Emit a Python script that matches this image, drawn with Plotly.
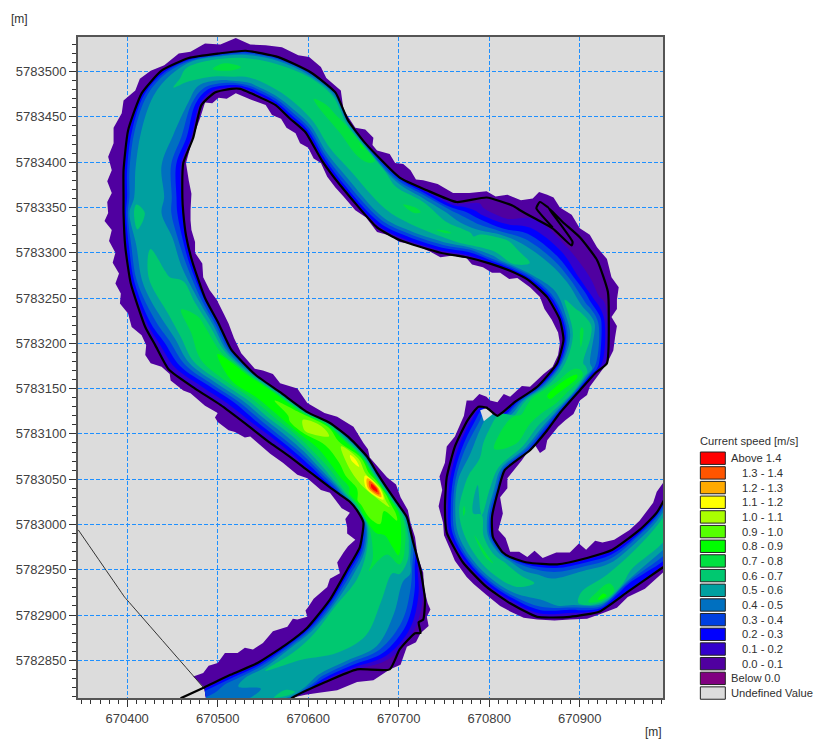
import plotly.graph_objects as go

# Eastings / northings are stored relative to these bases (metres)
E0 = 670000
N0 = 5783000

# Channel cross-sections: first bank and second bank
SEC_A_E = [485,514,544,575,599,624,643,657,661,655,646,635,624,611,599,578,558,531,503,475,446,431,420,404,398,396,396,396,401,416,438,468,501,531,567,603,630,644,663,701,731,764,797,826,859,900,919,931,932,930,917,900,878,864,845,817,810,803,804,815,823,842,875,908,936,966,985,999]
SEC_A_N = [-180,-166,-153,-133,-114,-83,-50,-25,2,14,25,33,41,51,60,76,90,111,132,150,171,198,218,266,306,344,361,391,435,476,501,515,520,523,516,499,477,446,421,383,369,356,361,352,356,317,292,257,229,178,167,148,123,104,82,60,38,8,-14,-31,-36,-42,-44,-37,-28,-6,13,38]
SEC_B_E = [488,536,583,619,654,690,718,729,724,716,709,698,687,676,665,646,624,599,569,542,515,501,486,472,465,462,461,462,473,482,497,515,525,537,564,580,597,615,635,676,701,746,775,801,823,843,864,878,882,875,853,828,809,788,776,762,753,751,753,771,797,823,853,889,922,952,988,1010]
SEC_B_N = [-198,-198,-191,-174,-160,-149,-120,-83,-50,-20,8,24,40,57,75,95,112,124,146,165,193,222,250,290,319,344,361,399,427,463,477,481,481,476,463,448,433,402,375,328,314,300,295,288,280,270,251,226,204,178,152,135,120,130,115,86,52,19,-9,-42,-69,-87,-102,-102,-96,-75,-50,-35]

# Position across the channel (0 = first bank, 1 = second bank)
ACROSS = [0, .1, .22, .4, .6, .78, .9, 1]

# Current speed [m/s] at each cross-section
SPEED = [
 [.10,.20,.30,.35,.40,.42,.42,.42],
 [.15,.30,.45,.50,.45,.48,.52,.55],
 [.15,.40,.60,.55,.55,.60,.65,.40],
 [.20,.50,.62,.60,.60,.55,.35,.12],
 [.20,.55,.70,.68,.60,.52,.30,.10],
 [.20,.60,.68,.65,.60,.50,.28,.08],
 [.20,.55,.68,.65,.55,.45,.25,.05],
 [.20,.60,.72,.65,.55,.40,.20,.05],
 [.30,.70,.80,.75,.85,.60,.30,.10],
 [.40,.80,.90,.90,.82,.80,.65,.40],
 [.35,.70,.95,.95,.90,.95,.75,.40],
 [.30,.55,.85,.95,.95,1.05,.85,.40],
 [.20,.40,.70,.85,1.0,1.55,.95,.35],
 [.18,.35,.60,.85,1.0,1.05,.85,.35],
 [.15,.30,.55,.80,.95,1.15,.90,.35],
 [.10,.25,.45,.75,.90,.95,.80,.35],
 [.10,.20,.40,.65,1.02,1.08,.95,.50],
 [.10,.20,.35,.60,.85,.95,.90,.45],
 [.10,.18,.30,.55,.80,.88,.85,.40],
 [.08,.18,.30,.55,.80,.88,.80,.40],
 [.08,.20,.35,.60,.78,.80,.60,.30],
 [.10,.25,.40,.60,.72,.72,.55,.25],
 [.10,.30,.45,.60,.70,.68,.50,.25],
 [.15,.40,.55,.68,.58,.55,.40,.20],
 [.15,.40,.55,.58,.55,.50,.35,.20],
 [.15,.50,.66,.58,.52,.42,.30,.18],
 [.15,.40,.55,.58,.55,.45,.30,.18],
 [.15,.40,.52,.55,.52,.42,.28,.15],
 [.15,.40,.52,.56,.55,.45,.30,.15],
 [.20,.40,.52,.58,.58,.50,.30,.15],
 [.15,.40,.55,.62,.58,.42,.25,.12],
 [.15,.50,.65,.68,.60,.45,.28,.12],
 [.20,.55,.68,.74,.65,.50,.30,.12],
 [.20,.50,.66,.68,.62,.48,.28,.12],
 [.25,.55,.66,.68,.64,.55,.35,.15],
 [.30,.60,.66,.68,.65,.55,.35,.15],
 [.35,.62,.68,.72,.66,.58,.38,.15],
 [.40,.70,.72,.68,.65,.55,.35,.12],
 [.30,.82,.72,.68,.62,.50,.35,.15],
 [.25,.50,.65,.68,.62,.50,.30,.12],
 [.12,.40,.62,.72,.65,.50,.28,.12],
 [.05,.25,.45,.58,.72,.52,.30,.12],
 [.05,.07,.12,.35,.58,.65,.32,.12],
 [.05,.06,.09,.30,.68,.62,.45,.15],
 [.05,.05,.08,.22,.48,.66,.60,.15],
 [.05,.05,.08,.25,.50,.55,.50,.20],
 [.05,.05,.08,.20,.50,.55,.45,.15],
 [.05,.06,.12,.35,.58,.66,.45,.15],
 [.05,.20,.38,.62,.72,.62,.42,.15],
 [.05,.20,.40,.55,.68,.70,.50,.15],
 [.10,.40,.70,.90,.75,.62,.45,.15],
 [.15,.60,.72,.82,.78,.68,.45,.15],
 [.20,.55,.68,.72,.72,.55,.35,.12],
 [.20,.55,.68,.78,.65,.55,.35,.10],
 [.25,.58,.70,.75,.65,.50,.30,.10],
 [.30,.58,.70,.65,.55,.45,.25,.10],
 [.30,.55,.65,.60,.62,.50,.25,.10],
 [.25,.50,.60,.60,.72,.50,.25,.10],
 [.25,.50,.62,.70,.62,.48,.25,.10],
 [.30,.52,.60,.72,.62,.48,.25,.10],
 [.25,.52,.62,.68,.62,.48,.25,.10],
 [.20,.40,.52,.65,.60,.48,.25,.10],
 [.18,.35,.48,.55,.55,.45,.25,.10],
 [.15,.35,.50,.60,.58,.55,.25,.10],
 [.15,.35,.50,.60,.72,.85,.45,.15],
 [.15,.40,.55,.65,.62,.50,.20,.30],
 [.20,.45,.60,.65,.60,.45,.30,.15],
 [.20,.45,.60,.65,.60,.45,.30,.15],
]

# Outer edge of the wetted fringe, outside each bank
FRINGE_A_E = [473,484,490,500,508,522,530,539,550,561,577,583,588,599,597,600,606,621,624,635,632,639,644,652,643,643,641,646,637,624,614,599,588,572,558,536,530,519,512,500,497,500,486,470,462,448,447,438,426,420,421,416,405,401,392,393,387,391,384,387,380,383,375,379,378,383,378,383,379,385,385,394,396,409,414,426,441,457,470,486,503,520,536,553,571,589,601,614,620,636,639,652,663,672,671,676,690,696,705,713,719,727,743,760,778,797,807,820,835,848,855,864,871,878,891,900,911,919,930,935,943,941,941,935,941,939,937,930,922,911,908,900,893,884,876,864,862,856,851,845,836,820,820,812,815,810,818,823,833,842,850,859,874,889,899,907,917,925,938,955,966,981,985,992,1002]
FRINGE_A_N = [-168,-164,-156,-153,-142,-142,-136,-138,-131,-118,-113,-104,-105,-102,-95,-91,-82,-69,-60,-54,-42,-31,-24,-17,-10,-3,6,13,18,35,38,51,55,68,78,97,96,102,104,113,118,123,131,145,148,159,166,174,178,187,198,209,218,233,244,255,266,277,289,300,313,325,335,344,356,366,379,391,406,421,438,454,468,479,492,501,507,520,522,531,530,537,530,529,527,518,516,505,493,479,458,438,436,427,419,413,409,399,398,391,381,380,376,366,366,368,362,364,358,360,367,364,361,350,342,327,320,306,293,273,262,248,238,229,219,207,192,178,167,152,143,137,122,115,108,93,83,79,87,84,71,51,40,30,12,-6,-15,-30,-30,-36,-29,-37,-31,-31,-21,-28,-18,-20,-17,-6,4,24,36,46,60]
FRINGE_B_E = [575,583,597,610,632,654,672,690,702,709,719,724,733,731,735,732,728,727,721,718,713,710,702,697,687,680,668,666,661,650,632,618,599,588,569,561,550,541,526,518,512,507,499,491,484,483,475,475,471,470,470,471,468,465,472,481,486,494,501,510,520,537,553,560,570,576,586,591,600,606,614,621,630,639,652,664,676,690,701,717,735,746,760,775,781,793,803,812,822,831,845,856,861,869,876,878,876,870,860,845,836,823,816,809,801,797,789,782,775,772,762,753,751,745,748,744,749,750,757,762,775,783,797,812,823,838,853,872,889,908,925,941,953,972,992,1005]
FRINGE_B_N = [-198,-191,-188,-186,-183,-174,-172,-160,-155,-135,-130,-120,-112,-102,-94,-87,-71,-53,-36,-14,2,16,30,44,52,60,74,83,90,108,119,123,134,150,156,166,170,172,189,206,222,232,248,259,273,288,300,312,325,336,347,365,380,399,425,450,466,465,471,470,476,469,463,452,448,438,432,421,416,404,399,384,372,362,347,339,323,319,312,309,301,295,297,294,287,284,278,278,271,272,262,251,238,226,212,200,187,174,166,152,153,141,144,135,137,141,144,137,137,120,97,86,68,53,38,20,2,-12,-28,-40,-58,-66,-78,-90,-96,-103,-105,-106,-105,-104,-98,-92,-80,-71,-53,-45]

# Black bank lines
BANK_A_E = [459] + SEC_A_E[:44] + [834,850,870,891,892,865,881] + SEC_A_E[45:]
BANK_A_N = [-192] + SEC_A_N[:44] + [347,338,327,308,312,350,334] + SEC_A_N[45:]
SLOT_E = [865,856,853,852,870]
SLOT_N = [350,356,352,349,328]
BANK_B_E = [575] + SEC_B_E[2:5] + [690,701,718,724,722,727] + SEC_B_E[7:53] + [797] + SEC_B_E[53:]
BANK_B_N = [-198] + SEC_B_N[2:5] + [-160,-138,-120,-120,-108,-105] + SEC_B_N[7:53] + [129] + SEC_B_N[53:]
MESH_E = [346,397,486]
MESH_N = [-6,-80,-182]
HOLE_E = [790,799,804,794]
HOLE_N = [126,129,122,114]

LEGEND_TITLE = "Current speed [m/s]"
LEGEND_LABELS = ["Above 1.4","1.3 - 1.4","1.2 - 1.3","1.1 - 1.2","1.0 - 1.1","0.9 - 1.0","0.8 - 0.9","0.7 - 0.8","0.6 - 0.7","0.5 - 0.6","0.4 - 0.5","0.3 - 0.4","0.2 - 0.3","0.1 - 0.2","0.0 - 0.1","Below 0.0","Undefined Value"]
LEGEND_COLORS = ["#FF0000","#FF5500","#FFAA00","#FFFF00","#AAFF00","#55FF00","#00FF00","#00E040","#00C870","#00A0A0","#0070C0","#0040E0","#0000FF","#3300CC","#5000A0","#800080","#DCDCDC"]

BG = "#DCDCDC"
W, H = 816, 740
L, T, R, B = 77.5, 36.7, 663.3, 698.3
XR = [670345.7, 670991.9]
YR = [5782808.4, 5783538.2]

e = lambda v: [E0 + i for i in v]
n = lambda v: [N0 + i for i in v]

grid_x = [[E0 + a + f*(b-a) for f in ACROSS] for a, b in zip(SEC_A_E, SEC_B_E)]
grid_y = [[N0 + a + f*(b-a) for f in ACROSS] for a, b in zip(SEC_A_N, SEC_B_N)]
stations = list(range(len(SPEED)))

band_colors = LEGEND_COLORS[:15][::-1]
colorscale = [[k/14, c] for k, c in enumerate(band_colors)]

hidden = dict(showgrid=False, showline=False, startline=False, endline=False,
              showticklabels="none", minorgridcount=0, smoothing=0, title=dict(text=""))

fig = go.Figure()
fig.add_trace(go.Carpet(a=ACROSS, b=stations, x=grid_x, y=grid_y, carpet="river",
                        aaxis=hidden, baxis=dict(hidden, smoothing=1)))
fig.add_trace(go.Contourcarpet(a=ACROSS, b=stations, z=SPEED, carpet="river",
                               autocontour=False,
                               contours=dict(start=.1, end=1.4, size=.1, coloring="fill", showlines=False),
                               line=dict(width=0, smoothing=1), colorscale=colorscale, showscale=False))
line = lambda xs, ys, w, c="#000000", s=.5: go.Scatter(x=e(xs), y=n(ys), mode="lines",
            line=dict(color=c, width=w, shape="spline", smoothing=s), showlegend=False, hoverinfo="skip")
fig.add_trace(go.Scatter(x=e(HOLE_E), y=n(HOLE_N), mode="lines", fill="toself", fillcolor=BG,
                         line=dict(width=0), showlegend=False, hoverinfo="skip"))
fig.add_trace(line(MESH_E, MESH_N, 1, "#333333", 0))
fig.add_trace(line(BANK_A_E, BANK_A_N, 2.2))
fig.add_trace(line(SLOT_E, SLOT_N, 2.2))
fig.add_trace(line(BANK_B_E, BANK_B_N, 2.2))

fringe_x = e(FRINGE_A_E) + e(FRINGE_B_E[::-1]) + e([488, 485])
fringe_y = n(FRINGE_A_N) + n(FRINGE_B_N[::-1]) + n([-198, -180])
path = "M " + " L ".join(f"{x} {y}" for x, y in zip(fringe_x, fringe_y)) + " Z"
shapes = [dict(type="path", path=path, xref="x", yref="y", layer="between",
               fillcolor=LEGEND_COLORS[14], line=dict(width=0))]

px = lambda v: (v - L) / (R - L)
py = lambda v: (B - v) / (B - T)
annotations = []
def text(s, x, y, size=11.2, anchor="left"):
    annotations.append(dict(text=s, x=px(x), y=py(y), xref="paper", yref="paper", showarrow=False,
                            xanchor=anchor, yanchor="middle", align="left",
                            font=dict(size=size, color="#303030"), borderpad=0))
text(LEGEND_TITLE, 699.5, 441)
for i, (lab, col) in enumerate(zip(LEGEND_LABELS, LEGEND_COLORS)):
    yc = 458.3 + i*14.69
    shapes.append(dict(type="rect", xref="paper", yref="paper", x0=px(700.7), x1=px(725.7),
                       y0=py(yc-6.2), y1=py(yc+6.2), fillcolor=col, line=dict(color="#222222", width=1)))
    text(lab, 741.7 if lab[0].isdigit() else 730.7, yc)
text("[m]", 9, 19, 12)
text("[m]", 644.5, 732, 12)

axis = dict(showline=True, linewidth=2, linecolor="#555555", mirror=True, ticks="outside",
            ticklen=7, tickwidth=1, tickcolor="#333333", showgrid=True, gridcolor="#1E90FF",
            gridwidth=1.2, griddash="4px,2px", zeroline=False, tickformat="d",
            tickfont=dict(size=13, color="#404040"),
            minor=dict(dtick=10, ticks="outside", ticklen=4, tickcolor="#333333", showgrid=False))
fig.update_layout(
    width=W, height=H, paper_bgcolor="#FFFFFF", plot_bgcolor=BG, showlegend=False,
    font=dict(family="Liberation Sans, Arial, sans-serif"),
    margin=dict(l=L, t=T, r=W-R, b=H-B, pad=0, autoexpand=False),
    xaxis=dict(axis, range=XR, dtick=100, tick0=E0),
    yaxis=dict(axis, range=YR, dtick=50, tick0=N0),
    shapes=shapes, annotations=annotations,
)
fig.write_html("out.html", config={"displayModeBar": False},
               post_script="document.body.style.margin='0';document.documentElement.style.overflow='hidden';")
